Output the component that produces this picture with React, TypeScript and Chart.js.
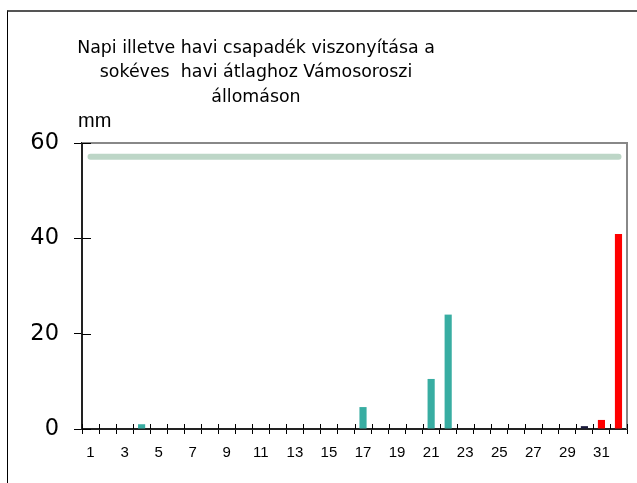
import React, { useEffect, useRef } from "react";
import { Chart, registerables } from "chart.js";

Chart.register(...registerables);

const days = ["1","2","3","4","5","6","7","8","9","10","11","12","13","14","15","16","17","18","19","20","21","22","23","24","25","26","27","28","29","30","31","32"];
const dailyRain = [0,0,0.1,1.0,0,0,0,0,0,0,0,0,0,0,0,0,4.6,0,0,0,10.5,24.0,0.1,0,0,0,0,0,0,null,null,null];
const darkBar = [null,null,null,null,null,null,null,null,null,null,null,null,null,null,null,null,null,null,null,null,null,null,null,null,null,null,null,null,null,0.6,null,null];
const monthlyBars = [null,null,null,null,null,null,null,null,null,null,null,null,null,null,null,null,null,null,null,null,null,null,null,null,null,null,null,null,null,null,1.9,40.9];
const longTermAverage = [57.1,57.1,57.1,57.1,57.1,57.1,57.1,57.1,57.1,57.1,57.1,57.1,57.1,57.1,57.1,57.1,57.1,57.1,57.1,57.1,57.1,57.1,57.1,57.1,57.1,57.1,57.1,57.1,57.1,57.1,57.1,57.1];
const titleLines = ["Napi illetve havi csapadék viszonyítása a", "sokéves  havi átlaghoz Vámosoroszi", "állomáson"];
const unitLabel = "mm";

const FONT = "'DejaVu Sans', Verdana, sans-serif";
const XFONT = "'Liberation Sans', Arial, sans-serif";

const decor = {
  id: "decor",
  afterDraw(chart: any) {
    const ctx = chart.ctx;
    const a = chart.chartArea;
    const xs = chart.scales.x;
    const ys = chart.scales.y;
    ctx.save();
    ctx.strokeStyle = "#888888";
    ctx.lineWidth = 2;
    ctx.beginPath();
    ctx.moveTo(a.left, a.top);
    ctx.lineTo(a.right, a.top);
    ctx.lineTo(a.right, a.bottom);
    ctx.stroke();
    ctx.strokeStyle = "#000000";
    ctx.lineWidth = 1;
    ctx.beginPath();
    const n = xs.ticks.length;
    const w = xs.getPixelForValue(1) - xs.getPixelForValue(0);
    for (let i = 0; i <= n; i++) {
      const px = Math.round(xs.getPixelForValue(0) - w / 2 + i * w) + 0.5;
      ctx.moveTo(px, a.bottom);
      ctx.lineTo(px, a.bottom - 5);
    }
    ys.ticks.forEach((t: any) => {
      const py = Math.round(ys.getPixelForValue(t.value)) + 0.5;
      ctx.moveTo(a.left, py);
      ctx.lineTo(a.left + 9, py);
    });
    ctx.stroke();
    ctx.fillStyle = "#000000";
    ctx.textAlign = "center";
    ctx.textBaseline = "middle";
    ctx.font = "17.4px " + FONT;
    titleLines.forEach((l, i) => ctx.fillText(l, 256, 48 + i * 24.5));
    ctx.textAlign = "left";
    ctx.font = "20px " + XFONT;
    ctx.fillText(unitLabel, 78, 121);
    ctx.restore();
  },
};

export default function App() {
  const ref = useRef<HTMLCanvasElement>(null);
  useEffect(() => {
    if (!ref.current) return;
    const chart = new Chart(ref.current, {
      type: "bar",
      data: {
        labels: days,
        datasets: [
          { type: "line", label: "Sokéves átlag", data: longTermAverage, borderColor: "#bdd6c7", borderWidth: 6, borderCapStyle: "round", pointRadius: 0, order: 0 } as any,
          { label: "Napi", data: dailyRain, backgroundColor: "#38ada2", order: 1 },
          { label: "x", data: darkBar, backgroundColor: "#1b1b3d", order: 1 },
          { label: "Havi", data: monthlyBars, backgroundColor: "#ff0000", order: 1 },
        ],
      },
      options: {
        animation: false,
        responsive: false,
        maintainAspectRatio: false,
        layout: { padding: { left: 0, right: 10, top: 143, bottom: 0 } },
        datasets: { bar: { grouped: false, categoryPercentage: 1, barPercentage: 0.42 } } as any,
        plugins: { legend: { display: false }, title: { display: false }, tooltip: { enabled: false } },
        scales: {
          x: {
            offset: true,
            grid: { offset: true, drawOnChartArea: false, drawTicks: true, tickLength: 5, tickColor: "#000", lineWidth: 1 },
            border: { color: "#222", width: 2 },
            ticks: {
              autoSkip: false, maxRotation: 0, color: "#000", padding: 10,
              font: { family: XFONT, size: 15 },
              callback: (_v: any, i: number) => (i % 2 === 0 ? days[i] : ""),
            },
            afterFit: (s: any) => { s.height = 54; },
          },
          y: {
            min: 0, max: 60,
            grid: { drawOnChartArea: false, drawTicks: true, tickLength: 8, tickColor: "#000" },
            border: { color: "#222", width: 2 },
            ticks: { stepSize: 20, color: "#000", padding: 15, font: { family: FONT, size: 22.5 } },
            afterFit: (s: any) => { s.width = 82; },
          },
        },
      },
      plugins: [decor],
    });
    return () => chart.destroy();
  }, []);
  return (
    <div style={{ position: "fixed", left: 0, top: 0, width: 637, height: 483, overflow: "hidden", background: "#fff" }}>
      <div style={{ position: "absolute", left: 7, top: 10, width: 700, height: 600, borderLeft: "1px solid #000", borderTop: "2px solid #555" }} />
      <canvas ref={ref} width={637} height={483} style={{ position: "absolute", left: 0, top: 0 }} />
    </div>
  );
}
